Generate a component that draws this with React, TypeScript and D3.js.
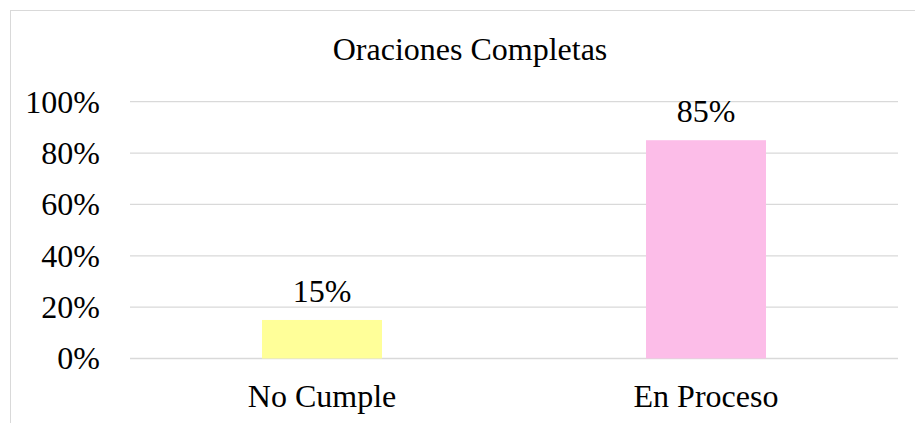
import React from "react";
import * as d3 from "d3";

const categories: string[] = ["No Cumple", "En Proceso"];
const values: number[] = [0.15, 0.85];
const barColors: string[] = ["#FFFF99", "#FCBDE8"];
const yTicks: number[] = [0, 0.2, 0.4, 0.6, 0.8, 1.0];
const title = "Oraciones Completas";

const W = 915;
const H = 423;
const FONT = "'Liberation Serif', 'Times New Roman', serif";
const FS = 32;

export default function App() {
  const plotLeft = 130;
  const plotRight = 898;
  const plotTop = 101.7;
  const plotBottom = 358.5;

  const x = d3.scaleBand<string>().domain(categories).range([plotLeft, plotRight]).padding(0);
  const y = d3.scaleLinear().domain([0, 1]).range([plotBottom, plotTop]);
  const barW = x.bandwidth() * 0.3125;
  const fmt = d3.format(".0%");

  return (
    <div style={{ position: "absolute", left: 0, top: 0 }}>
      <svg width={W} height={H} style={{ display: "block" }}>
        <rect x={0} y={0} width={W} height={H} fill="#ffffff" />
        <rect x={10.5} y={10.5} width={919} height={430} fill="none" stroke="#d9d9d9" strokeWidth={1} />
        <text x={470} y={60} textAnchor="middle" fontFamily={FONT} fontSize={FS} fill="#000">
          {title}
        </text>
        {yTicks.map((t) => (
          <g key={t}>
            <line x1={plotLeft} x2={plotRight} y1={y(t)} y2={y(t)} stroke="#d9d9d9" strokeWidth={1.3} />
            <text x={plotLeft - 30} y={y(t) + 10.8} textAnchor="end" fontFamily={FONT} fontSize={FS} fill="#000">
              {fmt(t)}
            </text>
          </g>
        ))}
        {categories.map((c, i) => {
          const cx = (x(c) as number) + x.bandwidth() / 2;
          return (
            <g key={c}>
              <rect x={cx - barW / 2} y={y(values[i])} width={barW} height={y(0) - y(values[i])} fill={barColors[i]} />
              <text x={cx} y={y(values[i]) - 18} textAnchor="middle" fontFamily={FONT} fontSize={FS} fill="#000">
                {fmt(values[i])}
              </text>
              <text x={cx} y={407} textAnchor="middle" fontFamily={FONT} fontSize={FS} fill="#000">
                {c}
              </text>
            </g>
          );
        })}
      </svg>
    </div>
  );
}
